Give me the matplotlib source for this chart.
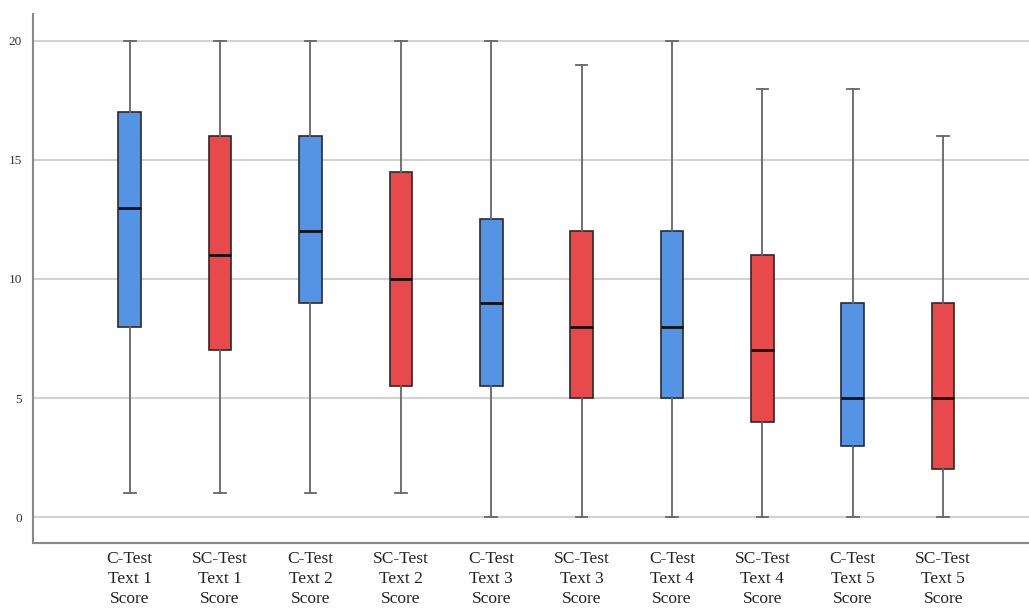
import matplotlib.pyplot as plt

# score summaries per test (min, Q1, median, Q3, max)
labels = ["C-Test\nText 1\nScore", "SC-Test\nText 1\nScore",
          "C-Test\nText 2\nScore", "SC-Test\nText 2\nScore",
          "C-Test\nText 3\nScore", "SC-Test\nText 3\nScore",
          "C-Test\nText 4\nScore", "SC-Test\nText 4\nScore",
          "C-Test\nText 5\nScore", "SC-Test\nText 5\nScore"]
mins = [1, 1, 1, 1, 0, 0, 0, 0, 0, 0]
q1s = [8, 7, 9, 5.5, 5.5, 5, 5, 4, 3, 2]
medians = [13, 11, 12, 10, 9, 8, 8, 7, 5, 5]
q3s = [17, 16, 16, 14.5, 12.5, 12, 12, 11, 9, 9]
maxs = [20, 20, 20, 20, 20, 19, 20, 18, 18, 16]
yticks = [0, 5, 10, 15, 20]

blue = "#5594e4"
red = "#e84a4c"

stats = []
for i in range(len(labels)):
    stats.append({"whislo": mins[i], "q1": q1s[i], "med": medians[i],
                  "q3": q3s[i], "whishi": maxs[i], "fliers": []})

fig = plt.figure(figsize=(10.29, 6.10), dpi=100)
ax = fig.add_axes([33 / 1029, 67 / 610, 1 - 33 / 1029, 529 / 610])

positions = list(range(1, len(labels) + 1))
bp = ax.bxp(stats, positions=positions, widths=0.25, patch_artist=True,
            showfliers=False,
            boxprops=dict(edgecolor="#2a2a2a", linewidth=1.2),
            medianprops=dict(color="#111111", linewidth=2),
            whiskerprops=dict(color="#666666", linewidth=1.3),
            capprops=dict(color="#666666", linewidth=1.3),
            capwidths=0.13, zorder=3)
for i, box in enumerate(bp["boxes"]):
    box.set_facecolor(blue if i % 2 == 0 else red)

ax.set_xlim(-0.07, 10.95)
ax.set_ylim(-1.09, 21.13)
ax.set_yticks(yticks)
ax.set_yticklabels([str(t) for t in yticks], family="Liberation Serif",
                   fontsize=9.5, color="#333333")
ax.set_xticks(positions)
ax.set_xticklabels(labels, family="Liberation Serif", fontsize=12.5,
                   color="#222222", linespacing=1.3)
ax.tick_params(axis="both", length=0)
ax.tick_params(axis="y", pad=8)
ax.tick_params(axis="x", pad=6)

ax.yaxis.grid(True, color="#d2d2d2", linewidth=1.5, zorder=0)
ax.set_axisbelow(True)
for side in ["top", "right"]:
    ax.spines[side].set_visible(False)
for side in ["left", "bottom"]:
    ax.spines[side].set_color("#8a8a8a")
    ax.spines[side].set_linewidth(1.5)

fig.savefig("out.png", dpi=100)
